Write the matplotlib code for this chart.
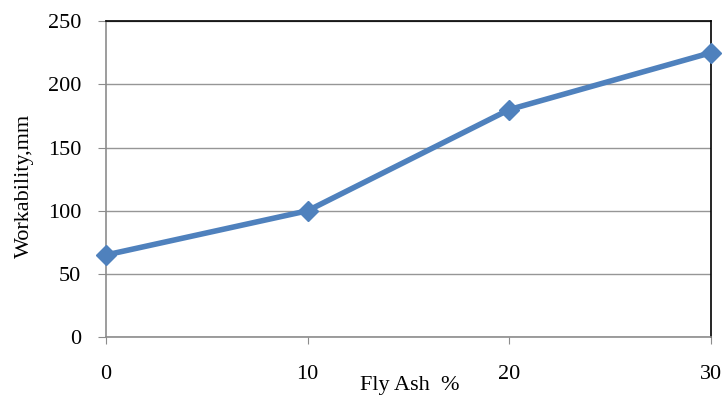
import matplotlib.pyplot as plt

plt.rcParams['font.family'] = ['Liberation Serif', 'DejaVu Serif']

fly_ash = [0, 10, 20, 30]
workability = [65, 100, 180, 225]
y_ticks = [0, 50, 100, 150, 200, 250]

fig = plt.figure(figsize=(7.26, 3.99), dpi=100)
ax = fig.add_axes([0.146, 0.155, 0.833, 0.792])

ax.plot(fly_ash, workability, color='#4F81BD', linewidth=4.0,
        marker='D', markersize=10, clip_on=False, zorder=3)

ax.set_xlim(0, 30)
ax.set_ylim(0, 250)
ax.set_xticks(fly_ash)
ax.set_yticks(y_ticks)
ax.grid(axis='y', color='#969696', linewidth=1)
ax.set_axisbelow(True)

for side in ['left', 'bottom']:
    ax.spines[side].set_color('#8c8c8c')
    ax.spines[side].set_linewidth(1.2)
for side in ['top', 'right']:
    ax.spines[side].set_color('black')
    ax.spines[side].set_linewidth(1.2)

ax.tick_params(axis='x', direction='out', length=5, color='#8c8c8c',
               labelsize=16, pad=15)
ax.tick_params(axis='y', direction='out', length=6, color='#8c8c8c',
               labelsize=16, pad=12)

fig.text(0.565, 0.035, 'Fly Ash  %', fontsize=16, ha='center', va='center')
fig.text(0.034, 0.535, 'Workability,mm', fontsize=16, rotation=90,
         ha='center', va='center')

fig.savefig('out.png', dpi=100)
